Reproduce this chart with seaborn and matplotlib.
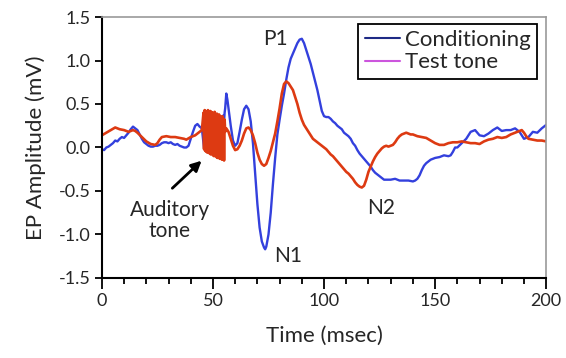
import numpy as np
import pandas as pd
import matplotlib
matplotlib.use("Agg")
import matplotlib.pyplot as plt
from matplotlib.lines import Line2D
import seaborn as sns

# ---- data ----
cond_t = [0, 1, 2, 3, 4, 5, 6, 7, 8, 9, 10, 11, 12, 13, 14, 15, 16, 17, 18, 19, 20,
          21, 22, 23, 24, 25, 26, 27, 28, 29, 30, 31, 32, 33, 34, 35, 36, 37, 38, 39,
          40, 41, 42, 43, 44, 45,
          55.5, 56, 56.5, 57, 58, 59, 60, 61, 62, 63, 64, 65, 66, 67, 68, 69, 70, 71,
          72, 73, 73.5, 74, 75, 76, 77, 78, 79, 80, 81, 82, 83, 84, 85, 86, 87, 88, 89,
          90, 91, 92, 93, 94, 95, 96, 97, 98, 99, 100, 101, 102, 103, 104, 105, 106,
          107, 108, 109, 110, 111, 112, 113, 114, 115, 116, 117, 118, 119, 120, 121,
          122, 123, 124, 125, 126, 127, 128, 130, 132, 134, 136, 138, 140, 141, 142,
          143, 144, 145, 146, 147, 148, 150, 152, 154, 156, 157, 158, 159, 160, 162,
          164, 166, 168, 170, 172, 174, 176, 178, 180, 182, 184, 186, 188, 190, 192,
          194, 196, 198, 200]
cond_v = [-0.02, -0.03, 0.0, 0.01, 0.03, 0.05, 0.08, 0.07, 0.10, 0.12, 0.11, 0.14, 0.17,
          0.21, 0.24, 0.22, 0.20, 0.15, 0.10, 0.06, 0.04, 0.02, 0.01, 0.01, 0.02, 0.02,
          0.03, 0.05, 0.06, 0.06, 0.05, 0.06, 0.04, 0.03, 0.04, 0.02, 0.01, 0.0, 0.0,
          0.02, 0.10, 0.18, 0.25, 0.27, 0.24, 0.22,
          0.45, 0.62, 0.55, 0.45, 0.25, 0.08, 0.02, 0.05, 0.18, 0.32, 0.44, 0.48, 0.44,
          0.30, 0.05, -0.30, -0.65, -0.92, -1.08, -1.15, -1.17, -1.14, -1.00, -0.75,
          -0.42, -0.12, 0.15, 0.32, 0.48, 0.62, 0.78, 0.92, 1.02, 1.08, 1.14, 1.20, 1.24,
          1.25, 1.20, 1.12, 1.04, 0.96, 0.86, 0.76, 0.66, 0.54, 0.42, 0.36, 0.35, 0.35,
          0.33, 0.30, 0.28, 0.25, 0.23, 0.21, 0.17, 0.15, 0.13, 0.10, 0.05, 0.02, -0.03,
          -0.07, -0.10, -0.13, -0.16, -0.19, -0.22, -0.26, -0.29, -0.31, -0.33, -0.35,
          -0.37, -0.37, -0.37, -0.36, -0.38, -0.38, -0.38, -0.39, -0.38, -0.36, -0.32,
          -0.26, -0.21, -0.18, -0.16, -0.14, -0.12, -0.11, -0.09, -0.10, -0.09, -0.05,
          0.0, 0.0, 0.05, 0.10, 0.18, 0.20, 0.14, 0.13, 0.16, 0.20, 0.23, 0.19, 0.20,
          0.20, 0.22, 0.18, 0.10, 0.12, 0.18, 0.17, 0.22, 0.26]

test_t = [0, 2, 4, 6, 7, 8, 10, 12, 14, 15, 16, 18, 20, 22, 24, 25, 26, 27, 29, 31, 33,
          35, 37, 38, 40, 42, 44, 45,
          55.5, 56, 57, 58, 59, 60, 61, 62, 63, 64, 65, 66, 67, 68, 69, 70, 71, 72, 73,
          74, 75, 76, 77, 78, 79, 80, 81, 82, 83, 84, 85, 86, 87, 88, 89, 90, 91, 92,
          93, 94, 95, 96, 97, 98, 99, 100, 101, 102, 103, 104, 105, 106, 107, 108, 109,
          110, 111, 112, 113, 114, 115, 116, 117, 118, 119, 120, 121, 122, 123, 124,
          125, 126, 127, 128, 129, 130, 131, 132, 133, 134, 135, 136, 137, 138, 139,
          140, 141, 142, 144, 146, 148, 150, 152, 154, 156, 158, 160, 162, 164, 166,
          168, 170, 172, 174, 176, 178, 180, 182, 184, 186, 188, 189, 190, 191, 192,
          194, 196, 198, 200]
test_v = [0.14, 0.17, 0.20, 0.23, 0.22, 0.21, 0.20, 0.18, 0.20, 0.19, 0.17, 0.12, 0.07,
          0.04, 0.03, 0.05, 0.09, 0.12, 0.13, 0.12, 0.12, 0.11, 0.10, 0.09, 0.12, 0.14,
          0.18, 0.20,
          0.18, 0.22, 0.18, 0.10, 0.02, -0.03, -0.02, 0.02, 0.08, 0.16, 0.22, 0.23, 0.20,
          0.14, 0.05, -0.06, -0.14, -0.19, -0.21, -0.19, -0.12, -0.04, 0.06, 0.16, 0.30,
          0.45, 0.62, 0.73, 0.76, 0.74, 0.70, 0.66, 0.58, 0.50, 0.40, 0.32, 0.26, 0.22,
          0.18, 0.14, 0.10, 0.08, 0.06, 0.04, 0.02, 0.00, -0.02, -0.05, -0.08, -0.10,
          -0.13, -0.16, -0.19, -0.22, -0.25, -0.28, -0.30, -0.33, -0.36, -0.40, -0.43,
          -0.45, -0.46, -0.44, -0.37, -0.28, -0.22, -0.16, -0.11, -0.07, -0.04, -0.01,
          0.01, 0.02, 0.01, 0.02, 0.03, 0.06, 0.10, 0.13, 0.15, 0.16, 0.17, 0.16, 0.15,
          0.15, 0.14, 0.13, 0.12, 0.11, 0.08, 0.05, 0.03, 0.03, 0.05, 0.06, 0.06, 0.07,
          0.06, 0.05, 0.05, 0.04, 0.07, 0.09, 0.10, 0.12, 0.11, 0.12, 0.15, 0.17, 0.19,
          0.20, 0.17, 0.13, 0.10, 0.09, 0.08, 0.08, 0.07]

# auditory tone burst (45.75 - 55.25 ms, sampled every 0.25 ms)
burst_t = np.arange(45.75, 55.26, 0.25)
cond_burst = [0.05, -0.01, 0.04, -0.02, 0.03, -0.03, 0.03, -0.04, 0.02, -0.04, 0.02,
              -0.05, 0.01, -0.06, 0.01, -0.06, 0.0, -0.07, 0.0, -0.08, 0.0, -0.08, 0.02,
              -0.09, 0.05, -0.09, 0.10, -0.10, 0.20, -0.10, 0.28, -0.10, 0.33, -0.08,
              0.35, -0.05, 0.37, 0.30, 0.40]
test_burst = [0.40, -0.02, 0.43, -0.04, 0.42, -0.05, 0.41, -0.06, 0.43, -0.05, 0.40,
              -0.07, 0.42, -0.08, 0.41, -0.07, 0.40, -0.09, 0.39, -0.10, 0.41, -0.09,
              0.38, -0.11, 0.39, -0.12, 0.37, -0.11, 0.38, -0.13, 0.36, -0.12, 0.35,
              -0.14, 0.36, -0.13, 0.33, -0.15, 0.32]

series_labels = ["Conditioning", "Test tone"]
x_ticks = [0, 50, 100, 150, 200]
y_ticks = [-1.5, -1.0, -0.5, 0.0, 0.5, 1.0, 1.5]

# ---- build tables ----
df_c = pd.DataFrame({"t": list(cond_t) + list(burst_t), "v": list(cond_v) + list(cond_burst)}).sort_values("t")
df_s = pd.DataFrame({"t": list(test_t) + list(burst_t), "v": list(test_v) + list(test_burst)}).sort_values("t")

sns.set_style("ticks")
plt.rcParams["font.family"] = ["Lato", "DejaVu Sans"]

fig = plt.figure(figsize=(5.66, 3.58), dpi=100)
ax = fig.add_axes([0.180, 0.2235, 0.785, 0.729])

blue = "#3340DD"
red = "#DD3A12"
sns.lineplot(data=df_c, x="t", y="v", ax=ax, color=blue, lw=1.7, estimator=None, sort=False)
sns.lineplot(data=df_s, x="t", y="v", ax=ax, color=red, lw=1.9, estimator=None, sort=False)

ax.set_xlim(0, 200)
ax.set_ylim(-1.5, 1.5)
ax.set_xticks(x_ticks)
ax.set_xticks(np.arange(0, 201, 10), minor=True)
ax.set_yticks(y_ticks)
ax.set_yticklabels([f"{v:.1f}" for v in y_ticks])
ax.tick_params(axis="both", which="major", labelsize=13, color="black", width=1.3)
ax.tick_params(axis="x", which="major", length=8, pad=3)
ax.tick_params(axis="x", which="minor", length=4, width=1.3, color="black")
ax.tick_params(axis="y", which="major", length=5, pad=3)

for s in ["left", "bottom"]:
    ax.spines[s].set_color("black")
    ax.spines[s].set_linewidth(1.5)
for s in ["top", "right"]:
    ax.spines[s].set_visible(True)
    ax.spines[s].set_color("#9a9a9a")
    ax.spines[s].set_linewidth(1.2)

ax.set_xlabel("Time (msec)", fontsize=16, labelpad=12)
ax.set_ylabel("EP Amplitude (mV)", fontsize=16, labelpad=9)

# annotations
ax.text(78, 1.245, "P1", fontsize=15, ha="center", va="center")
ax.text(83.8, -1.245, "N1", fontsize=15, ha="center", va="center")
ax.text(125.5, -0.69, "N2", fontsize=15, ha="center", va="center")
ax.text(30.6, -0.84, "Auditory\ntone", fontsize=15, ha="center", va="center", linespacing=1.1)
ax.annotate("", xy=(45.8, -0.13), xytext=(30.8, -0.49),
            arrowprops=dict(arrowstyle="-|>,head_length=0.6,head_width=0.3", color="black", lw=2))

handles = [Line2D([0], [0], color="#1E2A85", lw=1.5),
           Line2D([0], [0], color="#CC55DD", lw=1.5)]
leg = ax.legend(handles, series_labels, loc="upper right", bbox_to_anchor=(0.98, 0.975),
                borderaxespad=0, fontsize=16, frameon=True, fancybox=False,
                handlelength=1.6, handletextpad=0.2, labelspacing=0.1, borderpad=0.3)
leg.get_frame().set_edgecolor("black")
leg.get_frame().set_linewidth(1.3)
leg.get_frame().set_alpha(1)

fig.savefig("out.png", dpi=100)
